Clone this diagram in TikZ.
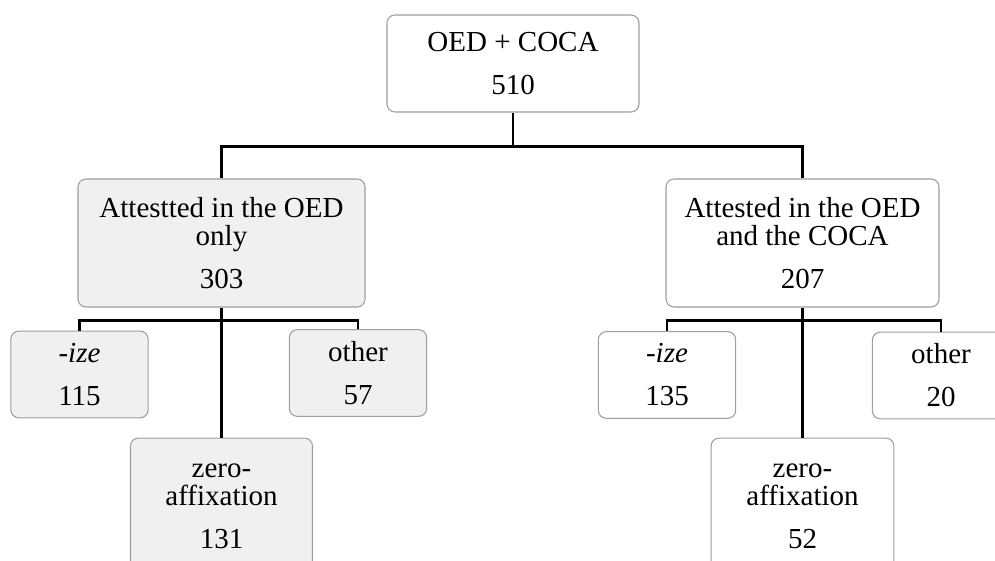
\documentclass[tikz,border=0pt]{standalone}
\usepackage{fontspec}
\setmainfont{Liberation Serif}
\usetikzlibrary{positioning}

\begin{document}
\begin{tikzpicture}[
    x=0.75pt, y=-0.75pt,
    box/.style={rectangle, rounded corners=6pt, draw=black!38, line width=0.8pt, inner sep=0pt, align=center, font=\fontsize{21.75}{21}\selectfont},
    greybox/.style={box, fill=black!6},
    whitebox/.style={box, fill=white},
    small/.style={minimum width=103pt, minimum height=65pt},
    link/.style={line width=1.6pt, black}
]
  \clip (0,0) rectangle (995,560);

  % totals
  \node[whitebox, minimum width=189pt, minimum height=72.75pt] (total) at (513,63.5) {OED + COCA\\[11.25pt]510};
  \node[greybox, minimum width=215.25pt, minimum height=96pt] (only) at (221.5,243) {Attestted in the OED\\only\\[11.25pt]303};
  \node[whitebox, minimum width=204.75pt, minimum height=96pt] (both) at (802.5,243) {Attested in the OED\\and the COCA\\[11.25pt]207};

  % OED only
  \node[greybox, small] (ize_only) at (79.5,374.5) {-\textit{ize}\\[11.25pt]115};
  \node[greybox, small] (other_only) at (358,373) {other\\[11.25pt]57};
  \node[greybox, minimum width=136.5pt, minimum height=102pt, below=97.5pt of only] (zero_only) {zero-\\affixation\\[11.25pt]131};

  % OED and COCA
  \node[whitebox, small] (ize_both) at (667,375) {-\textit{ize}\\[11.25pt]135};
  \node[whitebox, small] (other_both) at (941,375.5) {other\\[11.25pt]20};
  \node[whitebox, minimum width=137pt, minimum height=102pt, below=97.5pt of both] (zero_both) {zero-\\affixation\\[11.25pt]52};

  \path (total.south) ++(0,34) coordinate (split_total);
  \path (only.south) ++(0,13) coordinate (split_only);
  \path (both.south) ++(0,13) coordinate (split_both);

  \draw[link] (total.south) -- (split_total) -| (only.north);
  \draw[link] (split_total) -| (both.north);

  \draw[link] (only.south) -- (split_only) -| (ize_only.north);
  \draw[link] (split_only) -| (other_only.north);
  \draw[link] (split_only) -- (zero_only.north);

  \draw[link] (both.south) -- (split_both) -| (ize_both.north);
  \draw[link] (split_both) -| (other_both.north);
  \draw[link] (split_both) -- (zero_both.north);
\end{tikzpicture}
\end{document}
